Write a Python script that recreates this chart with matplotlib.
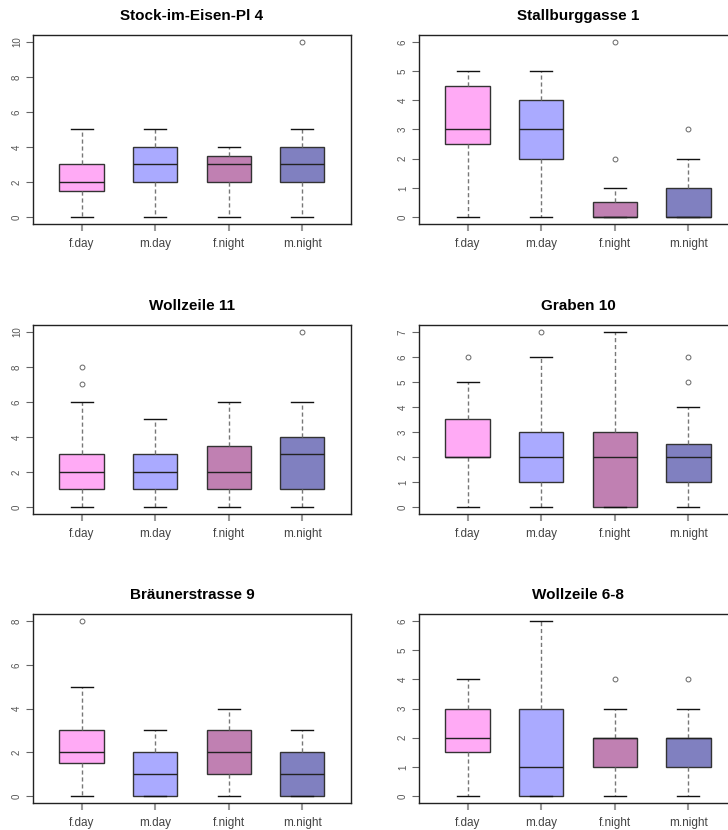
import numpy as np
import matplotlib
matplotlib.use("Agg")
import matplotlib.pyplot as plt

plt.rcParams['font.family'] = ['Liberation Sans', 'DejaVu Sans']

titles = ["Stock-im-Eisen-Pl 4", "Stallburggasse 1", "Wollzeile 11",
          "Graben 10", "Bräunerstrasse 9", "Wollzeile 6-8"]
groups = ["f.day", "m.day", "f.night", "m.night"]
colors = ["#FFAAF5", "#AAAAFF", "#C080B2", "#8080C0"]

# five-number summaries per panel, one value per group
whislo = [[0, 0, 0, 0], [0, 0, 0, 0], [0, 0, 0, 0],
          [0, 0, 0, 0], [0, 0, 0, 0], [0, 0, 0, 0]]
q1 = [[1.5, 2, 2, 2], [2.5, 2, 0, 0], [1, 1, 1, 1],
      [2, 1, 0, 1], [1.5, 0, 1, 0], [1.5, 0, 1, 1]]
med = [[2, 3, 3, 3], [3, 3, 0, 0], [2, 2, 2, 3],
       [2, 2, 2, 2], [2, 1, 2, 1], [2, 1, 2, 2]]
q3 = [[3, 4, 3.5, 4], [4.5, 4, 0.5, 1], [3, 3, 3.5, 4],
      [3.5, 3, 3, 2.5], [3, 2, 3, 2], [3, 3, 2, 2]]
whishi = [[5, 5, 4, 5], [5, 5, 1, 2], [6, 5, 6, 6],
          [5, 6, 7, 4], [5, 3, 4, 3], [4, 6, 3, 3]]
fliers = [[[], [], [], [10]],
          [[], [], [2, 6], [3]],
          [[7, 8], [], [], [10]],
          [[6], [7], [], [5, 6]],
          [[8], [], [], []],
          [[], [], [4], [4]]]
yticks = [[0, 2, 4, 6, 8, 10], [0, 1, 2, 3, 4, 5, 6], [0, 2, 4, 6, 8, 10],
          [0, 1, 2, 3, 4, 5, 6, 7], [0, 2, 4, 6, 8], [0, 1, 2, 3, 4, 5, 6]]

fig = plt.figure(figsize=(7.28, 8.30), dpi=100)
W, H = 728, 830
lefts = [33, 419]
tops = [35, 325, 614]
aw, ah = 318, 189

for i in range(6):
    r, c = i // 2, i % 2
    ax = fig.add_axes([lefts[c] / W, 1 - (tops[r] + ah) / H, aw / W, ah / H])
    stats = []
    for j in range(4):
        stats.append(dict(whislo=whislo[i][j], q1=q1[i][j], med=med[i][j],
                          q3=q3[i][j], whishi=whishi[i][j], fliers=fliers[i][j]))
    bp = ax.bxp(stats, positions=[1, 2, 3, 4], widths=0.6, patch_artist=True,
                showfliers=True,
                boxprops=dict(edgecolor="#333333", linewidth=1.0),
                medianprops=dict(color="#222222", linewidth=1.0),
                whiskerprops=dict(color="#777777", linestyle=(0, (3, 2)), linewidth=1.0),
                capprops=dict(color="#111111", linewidth=1.0),
                capwidths=0.3,
                flierprops=dict(marker="o", markersize=3.5, markerfacecolor="none",
                                markeredgecolor="#666666", markeredgewidth=0.7))
    for patch, col in zip(bp["boxes"], colors):
        patch.set_facecolor(col)
    ymax = yticks[i][-1]
    pad = 0.04 * ymax
    ax.set_ylim(-pad, ymax + pad)
    ax.set_xlim(0.34, 4.66)
    ax.set_yticks(yticks[i])
    ax.set_yticklabels([str(v) for v in yticks[i]], rotation=90, va="center",
                       fontsize=7, color="#555555")
    ax.set_xticks([1, 2, 3, 4])
    ax.set_xticklabels(groups, fontsize=8.5, color="#444444")
    ax.tick_params(axis="x", length=5, color="#999999", width=1.5, pad=5)
    ax.tick_params(axis="y", length=5, color="#666666", width=0.8, pad=3)
    for s in ax.spines.values():
        s.set_color("#222222")
        s.set_linewidth(1.0)
    ax.set_title(titles[i], fontsize=11, fontweight="bold", pad=11)

fig.savefig("out.png", dpi=100)
